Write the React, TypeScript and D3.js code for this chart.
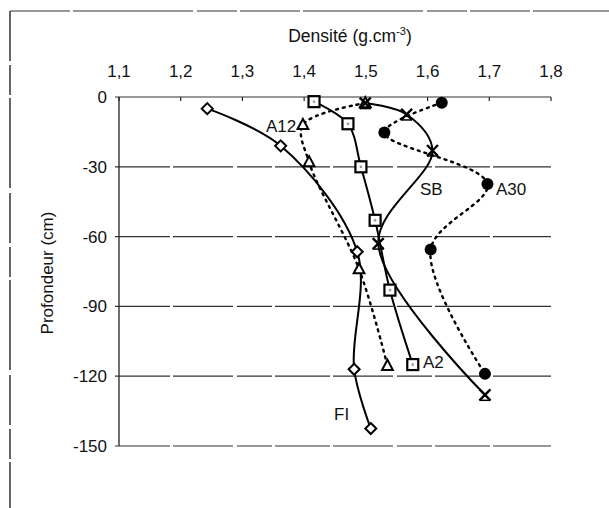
import React from "react";
import * as d3 from "d3";

const densTicks = [1.1, 1.2, 1.3, 1.4, 1.5, 1.6, 1.7, 1.8];
const depthTicks = [0, -30, -60, -90, -120, -150];

const fiDens = [1.243, 1.362, 1.486, 1.481, 1.508];
const fiDepth = [-5, -21, -66.5, -117, -142.5];

const a12Dens = [1.499, 1.398, 1.408, 1.489, 1.535];
const a12Depth = [-2.6, -12, -28, -74, -115.5];

const a2Dens = [1.416, 1.471, 1.492, 1.515, 1.539, 1.576];
const a2Depth = [-2, -11.5, -30, -53, -83, -115];

const sbDens = [1.499, 1.566, 1.608, 1.52, 1.693];
const sbDepth = [-2.6, -7.5, -23, -63, -128];

const a30Dens = [1.623, 1.53, 1.697, 1.605, 1.693];
const a30Depth = [-2.5, -15.3, -37.4, -65.5, -119];

const W = 609;
const H = 508;
const FONT = "'Liberation Sans', Arial, sans-serif";

const x = d3.scaleLinear().domain([1.1, 1.8]).range([119, 551]);
const y = d3.scaleLinear().domain([0, -150]).range([97, 446]);

type Pt = [number, number];
const zip = (a: number[], b: number[]): Pt[] => a.map((v, i) => [v, b[i]]);

const line = d3
  .line<Pt>()
  .x((d) => x(d[0]))
  .y((d) => y(d[1]))
  .curve(d3.curveCatmullRom.alpha(0.5));

const fmt = (v: number) => v.toFixed(1).replace(".", ",");

function Marker({ kind, cx, cy }: { kind: string; cx: number; cy: number }) {
  if (kind === "diamond") {
    const s = 5.5;
    return (
      <path
        d={`M${cx},${cy - s}L${cx + s},${cy}L${cx},${cy + s}L${cx - s},${cy}Z`}
        fill="white"
        stroke="black"
        strokeWidth={2}
      />
    );
  }
  if (kind === "square") {
    const s = 5.5;
    return (
      <g>
        <rect x={cx - s} y={cy - s} width={2 * s} height={2 * s} fill="white" stroke="black" strokeWidth={2.2} />
        <rect x={cx - 1.2} y={cy - 1.2} width={2.4} height={2.4} fill="#999" />
      </g>
    );
  }
  if (kind === "triangle") {
    const s = 6;
    return (
      <path
        d={`M${cx},${cy - s}L${cx + s * 0.9},${cy + s * 0.7}L${cx - s * 0.9},${cy + s * 0.7}Z`}
        fill="white"
        stroke="black"
        strokeWidth={2}
      />
    );
  }
  if (kind === "circle") {
    return <circle cx={cx} cy={cy} r={6} fill="black" />;
  }
  const s = 5.5;
  return (
    <g stroke="black" strokeWidth={2.4}>
      <line x1={cx - s} y1={cy - s} x2={cx + s} y2={cy + s} />
      <line x1={cx - s} y1={cy + s} x2={cx + s} y2={cy - s} />
      <line x1={cx - s} y1={cy + s} x2={cx + s} y2={cy + s} strokeWidth={1.5} />
    </g>
  );
}

const series = [
  { name: "FI", pts: zip(fiDens, fiDepth), marker: "diamond", dotted: false },
  { name: "A12", pts: zip(a12Dens, a12Depth), marker: "triangle", dotted: true },
  { name: "A30", pts: zip(a30Dens, a30Depth), marker: "circle", dotted: true },
  { name: "A2", pts: zip(a2Dens, a2Depth), marker: "square", dotted: false },
  { name: "SB", pts: zip(sbDens, sbDepth), marker: "cross", dotted: false },
];

const labels = [
  { text: "A12", x: 266, y: 132 },
  { text: "SB", x: 420, y: 195 },
  { text: "A30", x: 496, y: 195 },
  { text: "A2", x: 423, y: 368 },
  { text: "FI", x: 334, y: 420 },
];

export default function App() {
  const [x0, x1] = x.range();
  return (
    <svg
      width={W}
      height={H}
      style={{ position: "absolute", left: 0, top: 0, background: "white" }}
      fontFamily={FONT}
    >
      <rect x={0} y={0} width={W} height={H} fill="white" />
      <line x1={10} y1={11} x2={W} y2={11} stroke="#777" strokeWidth={1.5} strokeDasharray="60 3 120 4 40 3" />
      <line x1={10} y1={11} x2={10} y2={H} stroke="#333" strokeWidth={1.5} strokeDasharray="50 4 30 3 90 5" />

      {depthTicks.map((t) => (
        <line
          key={"g" + t}
          x1={x0 - 4}
          x2={x1}
          y1={y(t)}
          y2={y(t)}
          stroke="#333"
          strokeWidth={1.2}
          strokeDasharray={t === 0 ? "none" : "55 3 60 4 35 3"}
        />
      ))}
      <line x1={x0} x2={x0} y1={y(0)} y2={y(-150)} stroke="#222" strokeWidth={1.3} />
      {densTicks.map((t) => (
        <line key={"t" + t} x1={x(t)} x2={x(t)} y1={y(0)} y2={y(0) + 4} stroke="#222" strokeWidth={1.2} />
      ))}
      {densTicks.map((t) => (
        <text key={"l" + t} x={x(t)} y={77} textAnchor="middle" fontSize={17} fill="#111">
          {fmt(t)}
        </text>
      ))}
      {depthTicks.map((t) => (
        <text key={"yl" + t} x={107} y={y(t)} dy="0.35em" textAnchor="end" fontSize={17} fill="#111">
          {t}
        </text>
      ))}
      <text x={350} y={42} textAnchor="middle" fontSize={17.5} fill="#111">
        Densité (g.cm<tspan dy={-7} fontSize={11}>-3</tspan>
        <tspan dy={7}>)</tspan>
      </text>
      <text transform={`translate(53,273) rotate(-90)`} textAnchor="middle" fontSize={17} fill="#111">
        Profondeur (cm)
      </text>

      {series.map((s) => (
        <path
          key={"p" + s.name}
          d={line(s.pts) || ""}
          fill="none"
          stroke="black"
          strokeWidth={s.dotted ? 2.4 : 2}
          strokeDasharray={s.dotted ? "2 5" : "none"}
          strokeLinecap={s.dotted ? "round" : "butt"}
        />
      ))}
      {series.map((s) =>
        s.pts.map((p, i) => <Marker key={s.name + i} kind={s.marker} cx={x(p[0])} cy={y(p[1])} />)
      )}
      {labels.map((l) => (
        <text key={"sl" + l.text} x={l.x} y={l.y} fontSize={17} fill="#111">
          {l.text}
        </text>
      ))}
    </svg>
  );
}
